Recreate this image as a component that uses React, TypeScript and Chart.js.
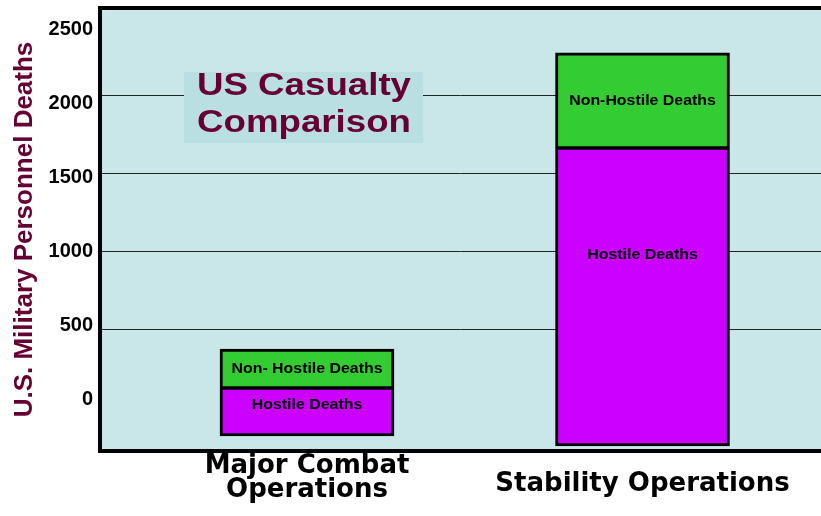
import React, { useEffect, useRef } from 'react';
import { Chart, registerables } from 'chart.js';

Chart.register(...registerables);

// ---- data ----
const categories: (string | string[])[] = [['Major Combat', 'Operations'], 'Stability Operations'];
const barBase = [-248, -316];
const hostileDeaths = [324, 2016];
const nonHostileDeaths = [264, 643];
const hostileLabels = ['Hostile Deaths', 'Hostile Deaths'];
const nonHostileLabels = ['Non- Hostile Deaths', 'Non-Hostile Deaths'];
const yTickValues = [0, 500, 1000, 1500, 2000, 2500];
const gridValues = [500, 1000, 1500, 2000];
const chartTitle = ['US Casualty', 'Comparison'];
const yAxisTitle = 'U.S. Military Personnel Deaths';

const PLOT_BG = '#C9E6E8';
const TITLE_BOX = '#B9DFE3';
const MAROON = '#660033';
const GREEN = '#33CC33';
const MAGENTA = '#CC00FF';

const plotBgPlugin = {
  id: 'plotBg',
  beforeDraw(chart: any) {
    const { ctx, chartArea: a } = chart;
    ctx.save();
    ctx.fillStyle = PLOT_BG;
    ctx.fillRect(a.left, a.top, a.right - a.left, a.bottom - a.top);
    ctx.restore();
  },
  afterDraw(chart: any) {
    const { ctx, chartArea: a } = chart;
    ctx.save();
    ctx.strokeStyle = '#000';
    ctx.lineWidth = 4;
    ctx.beginPath();
    ctx.moveTo(a.right + 2, a.top);
    ctx.lineTo(a.left, a.top);
    ctx.lineTo(a.left, a.bottom);
    ctx.lineTo(a.right + 2, a.bottom);
    ctx.stroke();
    ctx.restore();
  },
};

const barLabelPlugin = {
  id: 'barLabels',
  afterDatasetsDraw(chart: any) {
    const ctx = chart.ctx;
    chart.data.datasets.forEach((ds: any, di: number) => {
      const meta = chart.getDatasetMeta(di);
      meta.data.forEach((el: any, i: number) => {
        const { x, y, base } = el.getProps(['x', 'y', 'base'], true);
        const top = Math.min(y, base);
        const bottom = Math.max(y, base);
        const ly = top + (bottom - top) * ds.labelFrac;
        ctx.save();
        ctx.translate(x, ly);
        ctx.scale(1.06, 1);
        ctx.font = 'bold 15px "Liberation Sans", Arial, sans-serif';
        ctx.fillStyle = '#000';
        ctx.textAlign = 'center';
        ctx.textBaseline = 'middle';
        ctx.fillText(ds.segmentLabels[i], 0, 0);
        ctx.restore();
      });
    });
  },
};

export default function App() {
  const canvasRef = useRef<HTMLCanvasElement | null>(null);

  useEffect(() => {
    const canvas = canvasRef.current;
    if (!canvas) return;

    const hostileData = categories.map((_, i) => ({
      x: i + 1,
      y: [barBase[i], barBase[i] + hostileDeaths[i]],
    }));
    const nonHostileData = categories.map((_, i) => ({
      x: i + 1,
      y: [barBase[i] + hostileDeaths[i], barBase[i] + hostileDeaths[i] + nonHostileDeaths[i]],
    }));

    const chart = new Chart(canvas, {
      type: 'bar',
      data: {
        datasets: [
          {
            label: 'Hostile Deaths',
            data: hostileData as any,
            backgroundColor: MAGENTA,
            borderColor: '#000',
            borderWidth: { top: 2, right: 3, bottom: 3, left: 3 },
            borderSkipped: false,
            barThickness: 174,
            grouped: false,
            segmentLabels: hostileLabels,
            labelFrac: 0.36,
          } as any,
          {
            label: 'Non-Hostile Deaths',
            data: nonHostileData as any,
            backgroundColor: GREEN,
            borderColor: '#000',
            borderWidth: { top: 3, right: 3, bottom: 2, left: 3 },
            borderSkipped: false,
            barThickness: 174,
            grouped: false,
            segmentLabels: nonHostileLabels,
            labelFrac: 0.5,
          } as any,
        ],
      },
      options: {
        responsive: false,
        devicePixelRatio: 1,
        animation: false,
        layout: { padding: { left: 0, right: 0, top: 8, bottom: 0 } },
        plugins: {
          legend: { display: false },
          tooltip: { enabled: false },
          title: { display: false },
        },
        scales: {
          x: {
            type: 'linear',
            position: 'bottom',
            offset: false,
            min: 0.383,
            max: 2.532,
            afterBuildTicks: (s: any) => {
              s.ticks = categories.map((_, i) => ({ value: i + 1 }));
            },
            afterFit: (s: any) => {
              s.height = 65;
              s.paddingLeft = 0;
              s.paddingRight = 0;
            },
            grid: { display: false },
            border: { display: false },
            ticks: {
              autoSkip: false,
              maxRotation: 0,
              minRotation: 0,
              padding: 7,
              crossAlign: 'center',
              color: '#000',
              callback: (v: any) => categories[Math.round(Number(v)) - 1] ?? '',
              font: (c: any) =>
                c.index === 1
                  ? { family: '"DejaVu Sans"', size: 26, weight: 'bold', lineHeight: '11px' }
                  : { family: '"DejaVu Sans"', size: 26, weight: 'bold', lineHeight: '24px' },
            },
          } as any,
          y: {
            type: 'linear',
            position: 'left',
            min: -350,
            max: 2647,
            afterBuildTicks: (s: any) => {
              s.ticks = yTickValues.map((v) => ({ value: v }));
            },
            afterFit: (s: any) => {
              s.width = 100;
              s.paddingTop = 0;
              s.paddingBottom = 0;
            },
            grid: { display: false, drawTicks: false },
            border: { display: false },
            ticks: {
              padding: 7,
              color: '#000',
              callback: (v: any) => String(v),
              font: { family: '"Liberation Sans", Arial, sans-serif', size: 20, weight: 'bold' },
            },
            title: {
              display: true,
              text: yAxisTitle,
              color: MAROON,
              font: { family: '"Liberation Sans", Arial, sans-serif', size: 26, weight: 'bold' },
              padding: { top: 9, bottom: 0 },
            },
          } as any,
          yGrid: {
            type: 'linear',
            position: 'left',
            min: -278,
            max: 2562,
            afterBuildTicks: (s: any) => {
              s.ticks = gridValues.map((v) => ({ value: v }));
            },
            afterFit: (s: any) => {
              s.width = 0;
              s.paddingTop = 0;
              s.paddingBottom = 0;
            },
            grid: { display: true, drawTicks: false, color: '#222', lineWidth: 1 },
            border: { display: false },
            ticks: { display: false },
          } as any,
        },
      },
      plugins: [plotBgPlugin, barLabelPlugin],
    });

    return () => chart.destroy();
  }, []);

  return (
    <div style={{ position: 'absolute', left: 0, top: 0, width: 821, height: 516, background: '#fff' }}>
      <canvas ref={canvasRef} width={821} height={516} style={{ display: 'block' }} />
      <div
        style={{
          position: 'absolute',
          left: 184,
          top: 72,
          width: 239,
          height: 71,
          background: TITLE_BOX,
        }}
      />
      <div
        style={{
          position: 'absolute',
          left: 184,
          top: 66,
          width: 240,
          textAlign: 'center',
          font: 'bold 32px "Liberation Sans", Arial, sans-serif',
          lineHeight: '37px',
          color: MAROON,
          transform: 'scaleX(1.146)',
          transformOrigin: 'center',
          whiteSpace: 'nowrap',
        }}
      >
        {chartTitle.map((l) => (
          <div key={l}>{l}</div>
        ))}
      </div>
    </div>
  );
}
